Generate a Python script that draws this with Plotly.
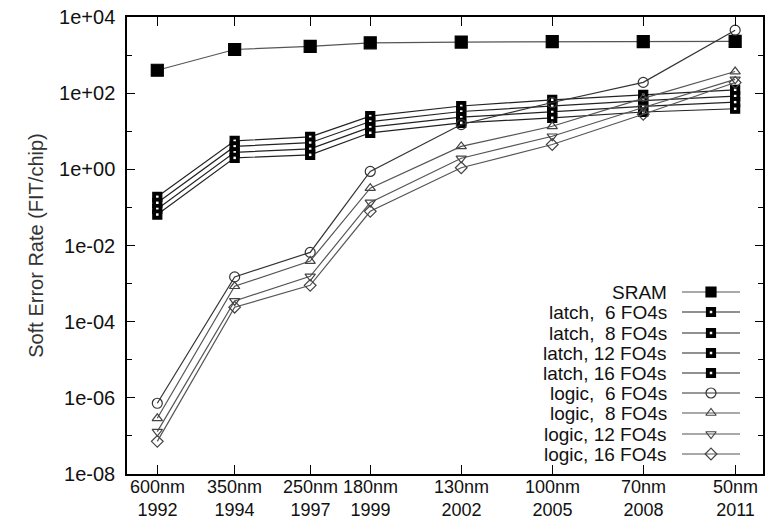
import plotly.graph_objects as go

# ---------------- data ----------------
nodes = ["600nm", "350nm", "250nm", "180nm", "130nm", "100nm", "70nm", "50nm"]
years = ["1992", "1994", "1997", "1999", "2002", "2005", "2008", "2011"]

sram = [400, 1400, 1700, 2100, 2200, 2250, 2250, 2300]
latch_6 = [0.19, 5.6, 7.1, 25, 46, 67, 90, 122]
latch_8 = [0.132, 4.0, 5.0, 18, 33, 46, 64, 84]
latch_12 = [0.091, 2.8, 3.45, 12.8, 23.4, 32, 45, 58]
latch_16 = [0.065, 2.0, 2.4, 9.1, 16.6, 22.5, 32, 39]
logic_6 = [7.2e-7, 1.5e-3, 6.6e-3, 0.88, 15, 57, 192, 4500]
logic_8 = [2.9e-7, 8.5e-4, 3.9e-3, 0.32, 4.0, 13.5, 73, 370]
logic_12 = [1.3e-7, 3.5e-4, 1.55e-3, 0.135, 1.95, 7.4, 42, 230]
logic_16 = [7.2e-8, 2.4e-4, 9.0e-4, 0.079, 1.1, 4.5, 28, 190]

y_tickvals = [1e-8, 1e-6, 1e-4, 1e-2, 1e0, 1e2, 1e4]
y_ticktext = ["1e-08", "1e-06", "1e-04", "1e-02", "1e+00", "1e+02", "1e+04"]
y_minorvals = [1e-7, 1e-5, 1e-3, 1e-1, 1e1, 1e3]

# layout positions of the technology nodes along the x axis (not data)
node_pos = [0, 0.85, 1.68, 2.34, 3.34, 4.34, 5.34, 6.35]

FONT = "Liberation Sans, Arial, sans-serif"
FS = 20
XFS = 18
LEG_FS = 19

series = [
    ("SRAM", sram, "square", 12, "black", "#555", True),
    ("latch,  6 FO4s", latch_6, "square", 9, "black", "#222", True),
    ("latch,  8 FO4s", latch_8, "square", 9, "black", "#222", True),
    ("latch, 12 FO4s", latch_12, "square", 9, "black", "#222", True),
    ("latch, 16 FO4s", latch_16, "square", 9, "black", "#222", True),
    ("logic,  6 FO4s", logic_6, "circle-open", 10, "#333", "#333", False),
    ("logic,  8 FO4s", logic_8, "triangle-up-open", 9, "#444", "#555", False),
    ("logic, 12 FO4s", logic_12, "triangle-down-open", 9, "#444", "#555", False),
    ("logic, 16 FO4s", logic_16, "diamond-open", 9, "#444", "#555", False),
]

fig = go.Figure()
for name, vals, sym, size, mcol, lcol, filled in series:
    fig.add_trace(go.Scatter(
        x=node_pos, y=vals, mode="lines+markers", name=name,
        line=dict(color=lcol, width=1.2),
        marker=dict(symbol=sym, size=size, color=mcol,
                    line=dict(color=mcol, width=1.2)),
        showlegend=False))
    if name.startswith("latch"):
        fig.add_trace(go.Scatter(
            x=node_pos, y=vals, mode="markers", hoverinfo="skip",
            marker=dict(symbol="square", size=2.5, color="white"),
            showlegend=False))

# ---------------- custom legend (right-aligned text, sample on the right) ----------------
leg_rows_px = [292, 312, 333, 353, 373, 393, 413, 434, 454]
plot_top, plot_bot, plot_l, plot_r = 17, 474, 127, 763
def px_to_paper_y(py):
    return (plot_bot - py) / (plot_bot - plot_top)
def px_to_paper_x(px):
    return (px - plot_l) / (plot_r - plot_l)

annotations = []
for (name, vals, sym, size, mcol, lcol, filled), py in zip(series, leg_rows_px):
    yy = px_to_paper_y(py)
    annotations.append(dict(xref="paper", yref="paper", x=px_to_paper_x(669), y=yy,
                            xanchor="right", yanchor="middle", text=name, showarrow=False,
                            font=dict(family=FONT, size=LEG_FS, color="#111")))
    x0, xm, x1 = px_to_paper_x(682), px_to_paper_x(711), px_to_paper_x(740)
    fig.add_trace(go.Scatter(x=[x0, x1], y=[yy, yy], xaxis="x2", yaxis="y2", mode="lines",
                             line=dict(color=lcol, width=1.2), hoverinfo="skip", showlegend=False))
    fig.add_trace(go.Scatter(x=[xm], y=[yy], xaxis="x2", yaxis="y2", mode="markers",
                             marker=dict(symbol=sym, size=size if name != "SRAM" else 10,
                                         color=mcol, line=dict(color=mcol, width=1.2)),
                             hoverinfo="skip", showlegend=False))
    if name.startswith("latch"):
        fig.add_trace(go.Scatter(x=[xm], y=[yy], xaxis="x2", yaxis="y2", mode="markers",
                                 marker=dict(symbol="square", size=2.5, color="white"),
                                 hoverinfo="skip", showlegend=False))

# x tick labels: node name over year, one two-line label per tick
for p, nd, yr in zip(node_pos, nodes, years):
    annotations.append(dict(xref="x", yref="paper", x=p, y=px_to_paper_y(476),
                            xanchor="center", yanchor="top", text=f"{nd}<br>{yr}",
                            showarrow=False, borderpad=0,
                            font=dict(family=FONT, size=XFS, color="#111")))

fig.update_layout(
    width=769, height=524,
    margin=dict(l=plot_l, r=769 - plot_r, t=plot_top, b=524 - plot_bot),
    paper_bgcolor="white", plot_bgcolor="white",
    font=dict(family=FONT, size=FS, color="#111"),
    showlegend=False,
    annotations=annotations,
    xaxis=dict(range=[-0.333, 6.656], tickvals=node_pos, showticklabels=False,
               ticks="inside", ticklen=9, tickwidth=1.2, tickcolor="black",
               showline=True, linecolor="black", linewidth=1.5, mirror="ticks",
               showgrid=False, zeroline=False, automargin=False),
    yaxis=dict(type="log", range=[-8, 4], tickvals=y_tickvals, ticktext=y_ticktext,
               ticks="inside", ticklen=8, tickwidth=1.2, tickcolor="black",
               minor=dict(tickvals=y_minorvals, ticks="inside", ticklen=5,
                          tickwidth=1.2, tickcolor="black"),
               showline=True, linecolor="black", linewidth=1.5, mirror="ticks",
               showgrid=False, zeroline=False, ticklabelstandoff=6, automargin=False,
               title=dict(text="Soft Error Rate (FIT/chip)", standoff=10,
                          font=dict(family=FONT, size=FS, color="#333")),
               tickfont=dict(family=FONT, size=FS, color="#111")),
    xaxis2=dict(range=[0, 1], overlaying="x", visible=False, fixedrange=True),
    yaxis2=dict(range=[0, 1], overlaying="y", visible=False, fixedrange=True),
)

fig.write_html("out.html")
